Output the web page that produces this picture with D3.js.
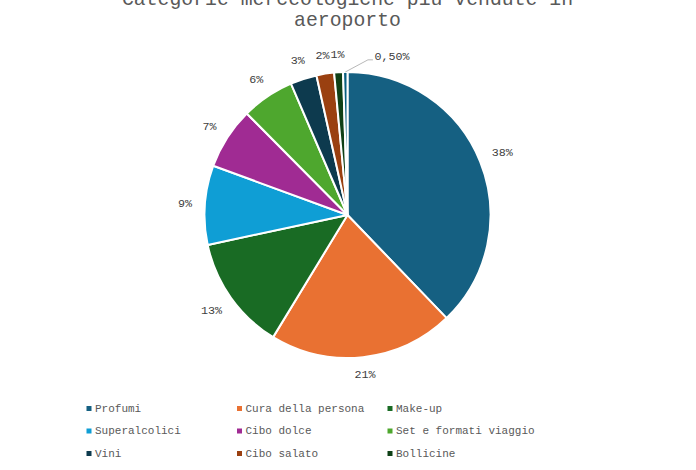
<!DOCTYPE html>
<html><head><meta charset="utf-8">
<script src="https://cdn.jsdelivr.net/npm/d3@7"></script>
<style>body{margin:0;background:#fff} svg{display:block}</style>
</head><body><svg id="c" width="696" height="470"></svg>
<script>
const titleLines = ["Categorie merceologiche più vendute in", "aeroporto"];
const categories = ["Profumi","Cura della persona","Make-up","Superalcolici","Cibo dolce","Set e formati viaggio","Vini","Cibo salato","Bollicine","Altro"];
const values = [38, 21, 13, 9, 7, 6, 3, 2, 1, 0.5];
const valueLabels = ["38%","21%","13%","9%","7%","6%","3%","2%","1%","0,50%"];
const colors = ["#156082","#E97132","#196B24","#0F9ED5","#A02B93","#4EA72E","#0D3A4E","#9A4010","#0F4016","#095F80"];

const data = categories.map((c, i) => ({cat: c, value: values[i], label: valueLabels[i], color: colors[i]}));

const svg = d3.select("#c");
const W = 696, H = 470;
const cx = 347.5, cy = 215, r = 143;
const font = "'Liberation Mono', 'Courier New', monospace";

svg.append("rect").attr("width", W).attr("height", H).attr("fill", "#fff");

// Title
const title = svg.append("text").attr("text-anchor", "middle")
  .attr("font-family", font).attr("font-size", "19.8px").attr("fill", "#595959");
titleLines.forEach((t, i) => {
  title.append("tspan").attr("x", cx).attr("y", 4.5 + i * 21.5).text(t);
});

// Pie
const pie = d3.pie().sort(null).value(d => d.value);
const arcs = pie(data);
const arc = d3.arc().innerRadius(0).outerRadius(r);
const g = svg.append("g").attr("transform", `translate(${cx},${cy})`);
g.selectAll("path.slice").data(arcs).join("path")
  .attr("class", "slice")
  .attr("d", arc)
  .attr("fill", d => d.data.color)
  .attr("stroke", "#fff")
  .attr("stroke-width", 2)
  .attr("stroke-linejoin", "round");

// Labels
const gap = 12.5, hh = 9;
arcs.forEach(d => {
  const mid = (d.startAngle + d.endAngle) / 2;
  const t = g.append("text")
    .attr("font-family", font).attr("font-size", "11.7px").attr("fill", "#404040")
    .attr("dominant-baseline", "central")
    .text(d.data.label);
  const w = t.node().getComputedTextLength();
  if (d.data.value < 1) {
    const p0 = [Math.sin(mid) * r, -Math.cos(mid) * r];
    const a1 = mid + 8.4 * Math.PI / 180 - 2 * Math.PI;
    const r1 = r + 13.5;
    const p1 = [Math.sin(a1) * r1, -Math.cos(a1) * r1];
    const p2 = [p1[0] + 5, p1[1]];
    g.append("path")
      .attr("d", d3.line()([p0, p1, p2]))
      .attr("fill", "none").attr("stroke", "#a6a6a6").attr("stroke-width", 0.8);
    t.attr("x", p2[0] + 1.5).attr("y", p2[1] - 2.5).attr("text-anchor", "start");
  } else {
    const s = Math.sin(mid), c = -Math.cos(mid);
    const dist = r + gap + Math.abs(s) * w / 2 + Math.abs(c) * hh / 2;
    t.attr("x", s * dist).attr("y", c * dist).attr("text-anchor", "middle");
  }
});

// Legend
const legX0 = 86.5, colW = 150.5, legY0 = 408.5, rowH = 22.5, ms = 5;
const leg = svg.append("g");
data.forEach((d, i) => {
  const col = i % 3, row = Math.floor(i / 3);
  const x = legX0 + col * colW, y = legY0 + row * rowH;
  leg.append("rect").attr("x", x).attr("y", y - ms / 2).attr("width", ms).attr("height", ms).attr("fill", d.color);
  leg.append("text").attr("x", x + 8.5).attr("y", y)
    .attr("dominant-baseline", "central")
    .attr("font-family", font).attr("font-size", "11px").attr("fill", "#595959")
    .text(d.cat);
});
</script>
</body></html>
